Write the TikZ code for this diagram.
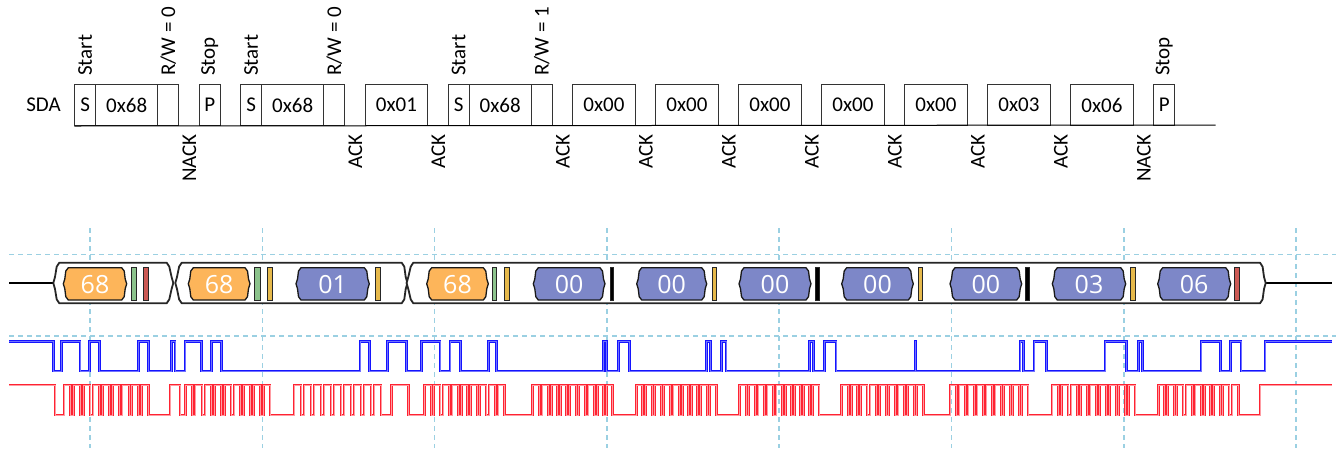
\documentclass[tikz,border=0pt]{standalone}
\usepackage{fontspec}
\setmainfont{Carlito}
\newfontfamily\hexfont{Open Sans}
\definecolor{gridc}{RGB}{155,208,226}
\definecolor{orangef}{RGB}{253,181,90}
\definecolor{bluef}{RGB}{125,135,200}
\definecolor{greenf}{RGB}{140,195,140}
\definecolor{redf}{RGB}{205,90,85}
\definecolor{yellowf}{RGB}{230,185,75}
\definecolor{sdablue}{RGB}{20,20,255}
\definecolor{sclred}{RGB}{255,35,50}
\tikzset{
  sbox/.style={draw=black!80, line width=1pt, inner sep=0pt, font=\fontsize{21}{25}\selectfont},
  wire/.style={draw=black, line width=1pt},
  lbl/.style={font=\fontsize{21}{25}\selectfont, inner sep=0pt},
  vlbl/.style={lbl, rotate=90},
  gridline/.style={draw=gridc, line width=1.6pt, dash pattern=on 5pt off 4pt},
  pkt/.style={draw=black!85, line width=1.8pt, fill=white, line join=round},
  hexo/.style={draw=black!90, line width=1.3pt, fill=orangef, line join=round},
  hexb/.style={draw=black!90, line width=1.3pt, fill=bluef, line join=round},
  hextxt/.style={font=\hexfont\fontsize{25}{28}\selectfont, text=white, inner sep=0pt},
  flagbar/.style={draw=black!85, line width=1pt},
  sda/.style={draw=sdablue, line width=1.1pt, double=sdablue!60, double distance=0.6pt},
  scl/.style={draw=sclred, line width=1pt, double=sclred!45, double distance=0.7pt},
}
\newcommand\bitbox[4]{\node[sbox, minimum width=#3*20.75pt, minimum height=41pt, anchor=north west] (#1) at ({74.3+#2*20.75},84) {#4};}
\newcommand\hexseg[5]{%
  \draw[#4] (#2+5,267.7) -- (#3-5,267.7) -- (#3-2.5,271) -- (#3-1.5,279) -- (#3,283.8) -- (#3-1.5,288.7) -- (#3-2.5,296.7) -- (#3-5,300) -- (#2+5,300) -- (#2+2.5,296.7) -- (#2+1.5,288.7) -- (#2,283.8) -- (#2+1.5,279) -- (#2+2.5,271) -- cycle;
  \node[hextxt] (#1) at ({(#2+#3)/2},284.5) {#5};}
\newcommand\pktframe[4]{%
  \draw[pkt] (#2,262.7) -- (#3,262.7) -- (#3+2.6,266.7) -- (#4-1.7,277) -- (#4,283) -- (#4-1.7,289) -- (#3+2.6,299.3) -- (#3,303.3) -- (#2,303.3) -- (#2-2.6,299.3) -- (#1+1.7,289) -- (#1,283) -- (#1+1.7,277) -- (#2-2.6,266.7) -- cycle;}
\newcommand\flag[3]{\draw[flagbar, fill=#3] (#1,267.7) rectangle (#2,300);}
\begin{document}
\begin{tikzpicture}[x=1pt,y=-1pt]
\useasboundingbox[fill=white] (0,0) rectangle (1343,448);
% ---------- upper diagram ----------
\node[lbl] (sda) at (43.5,104.5) {SDA};
\bitbox{b1}{0}{1}{S}
\bitbox{b2}{1}{3}{0x68}
\bitbox{b3}{4}{1}{}
\bitbox{b4}{6}{1}{P}
\bitbox{b5}{8}{1}{S}
\bitbox{b6}{9}{3}{0x68}
\bitbox{b7}{12}{1}{}
\bitbox{b8}{14}{3}{0x01}
\bitbox{b9}{18}{1}{S}
\bitbox{b10}{19}{3}{0x68}
\bitbox{b11}{22}{1}{}
\bitbox{b12}{24}{3}{0x00}
\bitbox{b13}{28}{3}{0x00}
\bitbox{b14}{32}{3}{0x00}
\bitbox{b15}{36}{3}{0x00}
\bitbox{b16}{40}{3}{0x00}
\bitbox{b17}{44}{3}{0x03}
\bitbox{b18}{48}{3}{0x06}
\bitbox{b19}{52}{1}{P}
\coordinate (lineend) at ({74.3+55*20.75},125);
\draw[wire] (b1.south west) -- (lineend);
% labels above
\node[vlbl, anchor=west] (u1) at ([yshift=8pt]b1.north) {Start};
\node[vlbl, anchor=west] (u2) at ([yshift=8pt]b3.north) {R/W = 0};
\node[vlbl, anchor=west] (u3) at ([yshift=8pt]b4.north) {Stop};
\node[vlbl, anchor=west] (u4) at ([yshift=8pt]b5.north) {Start};
\node[vlbl, anchor=west] (u5) at ([yshift=8pt]b7.north) {R/W = 0};
\node[vlbl, anchor=west] (u6) at ([yshift=8pt]b9.north) {Start};
\node[vlbl, anchor=west] (u7) at ([yshift=8pt]b11.north) {R/W = 1};
\node[vlbl, anchor=west] (u8) at ([yshift=8pt]b19.north) {Stop};
% labels below
\node[vlbl, anchor=east] (a1) at ([xshift=10.375pt,yshift=-8pt]b3.south east) {NACK};
\node[vlbl, anchor=east] (a2) at ([xshift=10.375pt,yshift=-8pt]b7.south east) {ACK};
\node[vlbl, anchor=east] (a3) at ([xshift=10.375pt,yshift=-8pt]b8.south east) {ACK};
\node[vlbl, anchor=east] (a4) at ([xshift=10.375pt,yshift=-8pt]b11.south east) {ACK};
\node[vlbl, anchor=east] (a5) at ([xshift=10.375pt,yshift=-8pt]b12.south east) {ACK};
\node[vlbl, anchor=east] (a6) at ([xshift=10.375pt,yshift=-8pt]b13.south east) {ACK};
\node[vlbl, anchor=east] (a7) at ([xshift=10.375pt,yshift=-8pt]b14.south east) {ACK};
\node[vlbl, anchor=east] (a8) at ([xshift=10.375pt,yshift=-8pt]b15.south east) {ACK};
\node[vlbl, anchor=east] (a9) at ([xshift=10.375pt,yshift=-8pt]b16.south east) {ACK};
\node[vlbl, anchor=east] (a10) at ([xshift=10.375pt,yshift=-8pt]b17.south east) {ACK};
\node[vlbl, anchor=east] (a11) at ([xshift=10.375pt,yshift=-8pt]b18.south east) {NACK};
% ---------- grid ----------
\draw[gridline] (9,254.3) -- (1336,254.3);
\draw[gridline] (9,336) -- (1336,336);
\foreach \gx in {90,262.3,434.6,606.9,779.2,951.5,1123.8,1296.1} {
  \draw[gridline] (\gx,228) -- (\gx,448);
}
% ---------- decoder bar ----------
\coordinate (w0) at (9,283);
\coordinate (w1) at (53.3,283);
\coordinate (w2) at (1265.7,283);
\coordinate (w3) at (1331.7,283);
\draw[wire, line width=1.3pt] (w0) -- (w1);
\draw[wire, line width=1.3pt] (w2) -- (w3);
\pktframe{53.3}{59.3}{166.7}{173.3}
\pktframe{175.3}{181.7}{401.7}{407.4}
\pktframe{406.6}{413.3}{1260}{1265.7}
\hexseg{h1}{63.3}{126.7}{hexo}{68}
\hexseg{h2}{188.3}{250}{hexo}{68}
\hexseg{h3}{296}{369.3}{hexb}{01}
\hexseg{h4}{426.7}{488.3}{hexo}{68}
\hexseg{h5}{533.3}{605}{hexb}{00}
\hexseg{h6}{636.7}{706.7}{hexb}{00}
\hexseg{h7}{739}{811}{hexb}{00}
\hexseg{h8}{841.7}{913.3}{hexb}{00}
\hexseg{h9}{950}{1021.7}{hexb}{00}
\hexseg{h10}{1052.3}{1125.7}{hexb}{03}
\hexseg{h11}{1157.7}{1230.7}{hexb}{06}
\flag{131}{136.7}{greenf}
\flag{143.3}{148.7}{redf}
\flag{254}{260}{greenf}
\flag{267.7}{272.7}{yellowf}
\flag{375.7}{380.7}{yellowf}
\flag{492.3}{496.7}{greenf}
\flag{504}{509}{yellowf}
\flag{610}{613.3}{black}
\flag{712.7}{716.7}{yellowf}
\flag{815.7}{819.3}{black}
\flag{918.3}{922.7}{yellowf}
\flag{1025.7}{1029.3}{black}
\flag{1130}{1135}{yellowf}
\flag{1234.3}{1239.3}{redf}
% ---------- SDA waveform ----------
\draw[sda] (9,341.7) -| (53.3,371) -| (61.7,341.7) -| (80,371) -| (89.3,341.7) -| (99.3,371)
  -| (138.3,341.7) -| (148.3,371) -| (171.7,341.7) -| (175,371) -| (185,341.7) -| (201.7,371)
  -| (211.7,341.7) -| (221.7,371) -| (360,341.7) -| (369.3,371) -| (387.3,341.7) -| (406.7,371)
  -| (421.7,341.7) -| (440,371) -| (450,341.7) -| (460.7,371) -| (488.3,341.7) -| (496.7,371)
  -| (603.3,341.7) -| (606.7,371) -| (618.3,341.7) -| (629.3,371) -| (706.7,341.7) -| (710.7,371)
  -| (721.7,341.7) -| (726,371) -| (809.3,341.7) -| (813.3,371) -| (824.3,341.7) -| (836,371)
  -| (915,341.7) -| (915.4,371) -| (1020,341.7) -| (1023.3,371) -| (1034,341.7) -| (1046.7,371)
  -| (1105,341.7) -| (1126.7,371) -| (1138.3,341.7) -| (1142.3,371) -| (1201,341.7) -| (1220.7,371)
  -| (1230.7,341.7) -| (1241,371) -| (1265,341.7) -- (1331.7,341.7);
% ---------- SCL waveform ----------
\draw[scl] (9,385) -| (55,415)
  foreach \k in {0,...,8} { -| ({61+(\k+0.3)*9.7},385) -| ({61+(\k+1)*9.7},415) }
  -| (170,385) -| (180,415)
  foreach \k in {0,...,8} { -| ({182.5+(\k+0.3)*9.72},385) -| ({182.5+(\k+1)*9.72},415) }
  foreach \k in {0,...,8} { -| ({291+(\k+0.3)*10},385) -| ({291+(\k+1)*10},415) }
  -| (391.7,385) -| (408.3,415)
  foreach \t/\p in {421.7/9.2, 530/9.2, 633.5/9.19, 737/9.1, 839/9.37, 947.3/8.97, 1049/9.56, 1155.5/9.2} {
    foreach \k in {0,...,8} { -| ({\t+(\k+0.3)*\p},385) -| ({\t+(\k+1)*\p},415) }
  }
  -| (1260,385) -- (1331.7,385);
\end{tikzpicture}
\end{document}
